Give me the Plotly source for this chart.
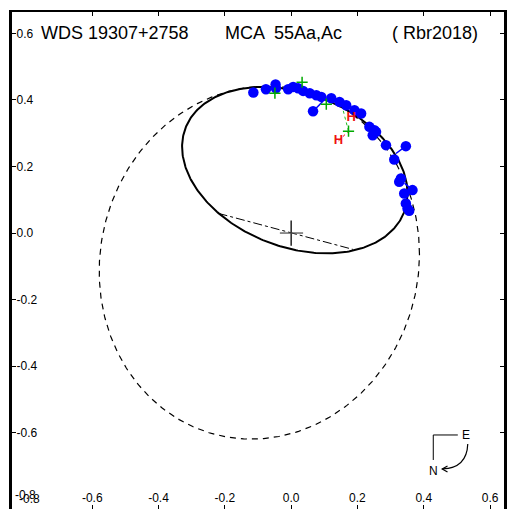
import numpy as np
import plotly.graph_objects as go

# ---------------- data (arcsec) ----------------
obs_x = [-0.114, -0.076, -0.047, -0.046, -0.009, 0.006, 0.021, 0.036, 0.056, 0.076, 0.091,
         0.066, 0.121, 0.146, 0.166, 0.191, 0.211, 0.236, 0.251, 0.256, 0.246, 0.286,
         0.346, 0.311, 0.331, 0.326, 0.366, 0.341, 0.346, 0.351, 0.356]
obs_y = [0.422, 0.432, 0.446, 0.435, 0.432, 0.439, 0.435, 0.427, 0.420, 0.414, 0.409,
         0.366, 0.405, 0.394, 0.384, 0.369, 0.359, 0.319, 0.309, 0.304, 0.294, 0.264,
         0.261, 0.221, 0.164, 0.154, 0.129, 0.119, 0.089, 0.074, 0.067]
# O-C residual lines (observed -> predicted)
oc_obs_x = [0.066, 0.346, 0.366]
oc_obs_y = [0.366, 0.261, 0.129]
oc_pred_x = [0.096, 0.316, 0.342]
oc_pred_y = [0.396, 0.239, 0.150]

plus_x = [-0.049, 0.033, 0.106, 0.173]
plus_y = [0.420, 0.453, 0.387, 0.306]
hip_x = [0.181, 0.143]
hip_y = [0.347, 0.277]

# orbit ellipse (center, x semi-extent, shear, y semi)
orb_c = (0.011, 0.189)
orb_p, orb_r, orb_q = 0.34, -0.07, 0.24
# dashed ellipse
old_c = (-0.096, -0.089)
old_p, old_r, old_q = 0.483, 0.0263, 0.5293
# line of nodes end points
node_x = [-0.219, 0.186]
node_y = [0.059, -0.049]

tick_vals = [-0.8, -0.6, -0.4, -0.2, 0.0, 0.2, 0.4, 0.6]
tick_text = ["", "-0.6", "-0.4", "-0.2", "0.0", "0.2", "0.4", "0.6"]
corner_label = "-0.8"


def ellipse(c, p, r, q, n=400):
    t = np.linspace(0, 2 * np.pi, n)
    return c[0] + p * np.cos(t), c[1] + r * np.cos(t) + q * np.sin(t)


fig = go.Figure()

ex, ey = ellipse(old_c, old_p, old_r, old_q)
fig.add_trace(go.Scatter(x=ex, y=ey, mode="lines",
                         line=dict(color="black", width=1.2, dash="6px,5px"), hoverinfo="skip"))
ex, ey = ellipse(orb_c, orb_p, orb_r, orb_q)
fig.add_trace(go.Scatter(x=ex, y=ey, mode="lines",
                         line=dict(color="black", width=2), hoverinfo="skip"))
fig.add_trace(go.Scatter(x=node_x, y=node_y, mode="lines",
                         line=dict(color="black", width=1, dash="dashdot"), hoverinfo="skip"))
# cross at primary
fig.add_trace(go.Scatter(x=[0, 0], y=[-0.038, 0.038], mode="lines",
                         line=dict(color="black", width=1.3), hoverinfo="skip"))
fig.add_trace(go.Scatter(x=[-0.034, 0.036], y=[0, 0], mode="lines",
                         line=dict(color="#555555", width=1.3), hoverinfo="skip"))

# dotted links for Hipparcos points
fig.add_trace(go.Scatter(x=[plus_x[3], 0.156], y=[plus_y[3], 0.372], mode="lines",
                         line=dict(color="#22bb22", width=1, dash="dot"), hoverinfo="skip"))
fig.add_trace(go.Scatter(x=[hip_x[1], plus_x[3]], y=[hip_y[1], plus_y[3]], mode="lines",
                         line=dict(color="red", width=1, dash="dot"), hoverinfo="skip"))

# O-C lines
for i in range(len(oc_obs_x)):
    fig.add_trace(go.Scatter(x=[oc_obs_x[i], oc_pred_x[i]], y=[oc_obs_y[i], oc_pred_y[i]],
                             mode="lines", line=dict(color="blue", width=1.5), hoverinfo="skip"))

fig.add_trace(go.Scatter(x=obs_x, y=obs_y, mode="markers",
                         marker=dict(color="blue", size=10.5, line=dict(width=0))))
fig.add_trace(go.Scatter(x=plus_x, y=plus_y, mode="markers",
                         marker=dict(symbol="cross-thin", size=8, color="#00aa00",
                                     line=dict(color="#00aa00", width=1.5))))
fig.add_trace(go.Scatter(x=hip_x, y=hip_y, mode="text", text=["H", "H"],
                         textfont=dict(color="#ee1111", size=13, family="Liberation Sans, Arial",
                                       weight="bold"),
                         textposition="middle center"))

axis_common = dict(
    showgrid=False, zeroline=False, showline=True, linecolor="black",
    mirror="ticks", ticks="inside", ticklen=4, tickcolor="black", tickwidth=1,
    ticklabelposition="inside", tickvals=tick_vals, ticktext=tick_text,
    tickfont=dict(family="Arial, Liberation Sans", size=12, color="black"),
)
fig.update_xaxes(range=[-0.842, 0.642], linewidth=2, **axis_common)
fig.update_yaxes(range=[-0.829, 0.664], linewidth=3, **axis_common)

tick_font = dict(family="Arial, Liberation Sans", size=12, color="black")
# corner "-0.8" labels (x-axis and y-axis, overlapping as in the original)
fig.add_annotation(x=-0.8, y=-0.786, text=corner_label, showarrow=False,
                   xanchor="center", yanchor="middle", font=tick_font)
fig.add_annotation(x=-0.827, y=-0.8, text=corner_label, showarrow=False,
                   xanchor="left", yanchor="middle", font=tick_font)

title_font = dict(family="Arial, Liberation Sans", size=18, color="black")
for txt, xv in [("WDS 19307+2758", -0.762), ("MCA  55Aa,Ac", -0.205), ("( Rbr2018)", 0.297)]:
    fig.add_annotation(x=xv, y=0.600, text=txt, showarrow=False, xanchor="left",
                       yanchor="middle", font=title_font)

# compass
fig.add_shape(type="line", x0=0.4287, y0=-0.6066, x1=0.5027, y1=-0.6066,
              line=dict(color="black", width=1))
fig.add_shape(type="line", x0=0.4287, y0=-0.6066, x1=0.4287, y1=-0.6817,
              line=dict(color="black", width=1))
fig.add_shape(type="path", path="M 0.5327,-0.6336 Q 0.530,-0.7057 0.4566,-0.7087",
              line=dict(color="black", width=1.2))
fig.add_shape(type="path", path="M 0.4716,-0.6997 L 0.4556,-0.7087 L 0.4716,-0.7177",
              line=dict(color="black", width=1.2))
fig.add_annotation(x=0.5285, y=-0.6066, text="E", showarrow=False, font=tick_font)
fig.add_annotation(x=0.4307, y=-0.7147, text="N", showarrow=False, font=tick_font)

fig.update_layout(width=507, height=509, margin=dict(l=12, r=0, t=12, b=0),
                  plot_bgcolor="white", paper_bgcolor="white", showlegend=False)
fig.write_html("out.html", config={"displayModeBar": False},
               post_script="document.body.style.margin='0';document.body.style.overflow='hidden';")
